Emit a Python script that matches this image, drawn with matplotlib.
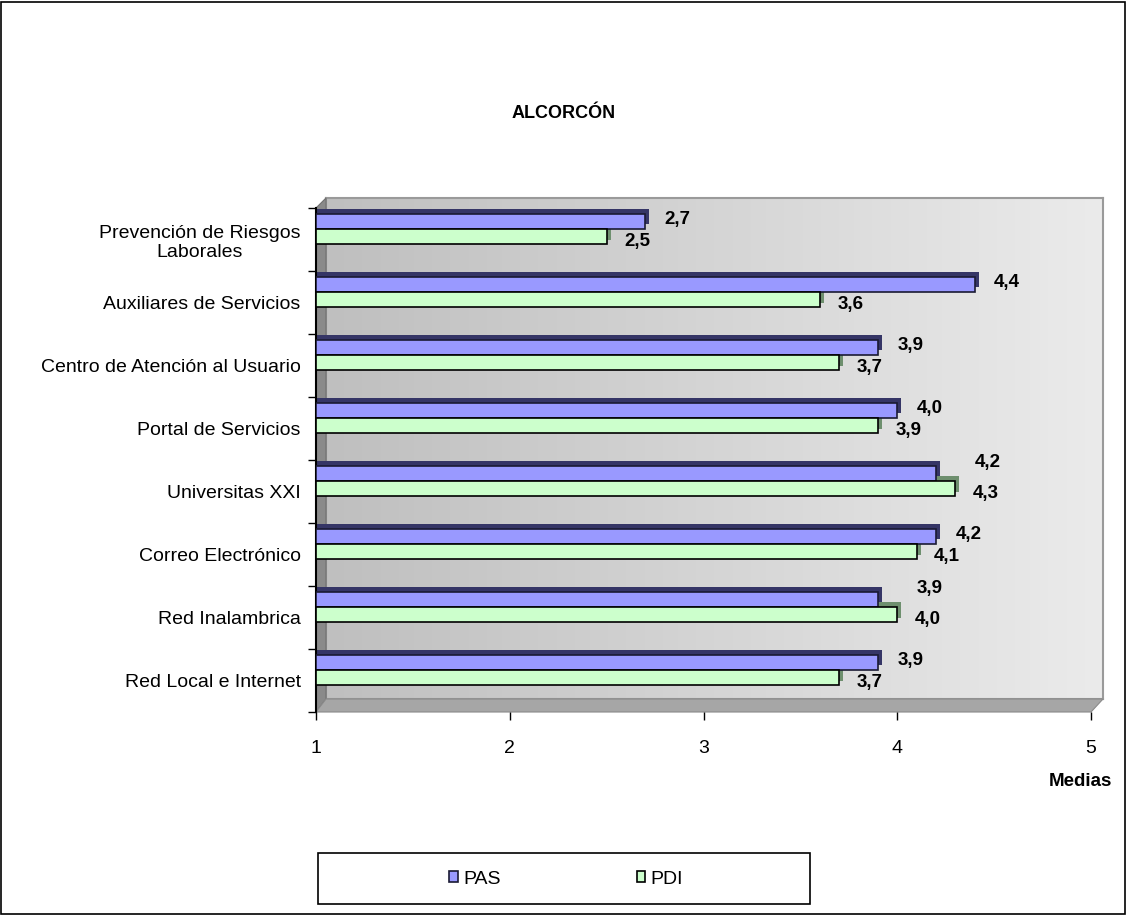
import matplotlib
matplotlib.use("Agg")
import matplotlib.pyplot as plt
import matplotlib.patches as patches
import numpy as np

plt.rcParams['font.family'] = ['Liberation Sans', 'DejaVu Sans']

categories = ["Prevención de Riesgos\nLaborales", "Auxiliares de Servicios",
              "Centro de Atención al Usuario", "Portal de Servicios",
              "Universitas XXI", "Correo Electrónico", "Red Inalambrica",
              "Red Local e Internet"]
pas = [2.7, 4.4, 3.9, 4.0, 4.2, 4.2, 3.9, 3.9]
pdi = [2.5, 3.6, 3.7, 3.9, 4.3, 4.1, 4.0, 3.7]
series_names = ["PAS", "PDI"]
xticks = [1, 2, 3, 4, 5]

W, H = 1127, 915


def fx(px):
    return px / W


def fy(py):
    return 1 - py / H


fig = plt.figure(figsize=(W / 100, H / 100), dpi=100)

# outer frame
fig.patches.append(patches.Rectangle((0.001, 0.001), 0.997, 0.997, transform=fig.transFigure,
                                     fill=False, edgecolor='black', linewidth=1.2, zorder=5))

# back wall with gradient
wall = fig.add_axes([fx(326), fy(699), (1103 - 326) / W, (699 - 198) / H], zorder=-2)
grad = np.linspace(0, 1, 256).reshape(1, -1)
wall.imshow(grad, aspect='auto', cmap=matplotlib.colors.LinearSegmentedColormap.from_list(
    'w', ['#bfbfbf', '#ebebeb']), extent=[0, 1, 0, 1])
wall.set_xticks([])
wall.set_yticks([])
for s in wall.spines.values():
    s.set_color('#9a9a9a')
    s.set_linewidth(1.5)

# side wall and floor
side = patches.Polygon([(fx(316), fy(712)), (fx(316), fy(208)), (fx(326), fy(198)), (fx(326), fy(699))],
                       closed=True, transform=fig.transFigure, facecolor='#8a8a8a',
                       edgecolor='#707070', linewidth=0.8, zorder=-1)
floor = patches.Polygon([(fx(316), fy(712)), (fx(1091), fy(712)), (fx(1103), fy(699)), (fx(326), fy(699))],
                        closed=True, transform=fig.transFigure, facecolor='#a6a6a6',
                        edgecolor='#8a8a8a', linewidth=0.8, zorder=-1)
fig.patches.extend([side, floor])

ax = fig.add_axes([fx(316), fy(712), (1091 - 316) / W, (712 - 208) / H], zorder=0)
ax.patch.set_alpha(0)

y = np.arange(len(categories))
h = 0.24
y_pas = y - 0.29
y_pdi = y - 0.05
dx = 4 / 193.75
dy = 0.07

ax.barh(y_pas - dy, np.array(pas) - 1 + dx, left=1, height=h, color='#353566', zorder=2)
ax.barh(y_pdi - dy, np.array(pdi) - 1 + dx, left=1, height=h, color='#6e8f6e', zorder=2)
ax.barh(y_pas, np.array(pas) - 1, left=1, height=h, color='#9999ff', edgecolor='#1a1a33',
        linewidth=1.2, zorder=3, label=series_names[0])
ax.barh(y_pdi, np.array(pdi) - 1, left=1, height=h, color='#ccffcc', edgecolor='black',
        linewidth=1.2, zorder=3, label=series_names[1])

for i in range(len(categories)):
    a, b = pas[i], pdi[i]
    if b > a:
        xa, ya = b + 0.1, y_pas[i] - 0.17
    else:
        xa, ya = a + 0.1, y_pas[i] - 0.02
    ax.text(xa, ya, f"{a:.1f}".replace('.', ','), fontsize=13.5, fontweight='bold',
            va='center', ha='left', zorder=4)
    ax.text(b + 0.09, y_pdi[i] + 0.08, f"{b:.1f}".replace('.', ','), fontsize=13.5,
            fontweight='bold', va='center', ha='left', zorder=4)

ax.set_xlim(1, 5)
ax.set_ylim(len(categories) - 0.5, -0.5)
ax.set_xticks(xticks)
ax.set_xticklabels([str(t) for t in xticks], fontsize=14)
ax.tick_params(axis='x', direction='out', length=6, width=1, pad=14)
ax.set_yticks(y)
ax.set_yticklabels(categories, fontsize=14, multialignment='center')
ax.tick_params(axis='y', which='major', length=0, pad=11)
ax.set_yticks(np.arange(len(categories) + 1) - 0.5, minor=True)
ax.tick_params(axis='y', which='minor', direction='out', length=6, width=1)
for s in ['top', 'right', 'bottom']:
    ax.spines[s].set_visible(False)
ax.spines['left'].set_linewidth(1.5)

fig.text(0.5, fy(113), "ALCORCÓN", ha='center', va='center', fontsize=13, fontweight='bold')
fig.text(fx(1080), fy(781), "Medias", ha='center', va='center', fontsize=13.5, fontweight='bold')

# legend box
fig.patches.append(patches.Rectangle((fx(318), fy(904)), (810 - 318) / W, (904 - 853) / H,
                                     transform=fig.transFigure, fill=False, edgecolor='black',
                                     linewidth=1.2))
handles, labels = ax.get_legend_handles_labels()
fig.legend(handles, labels, loc='center', bbox_to_anchor=(fx(566), fy(879)), ncol=2,
           frameon=False, fontsize=14, handlelength=0.45, handleheight=0.45,
           handletextpad=0.25, columnspacing=7)

fig.savefig("out.png", dpi=100)
